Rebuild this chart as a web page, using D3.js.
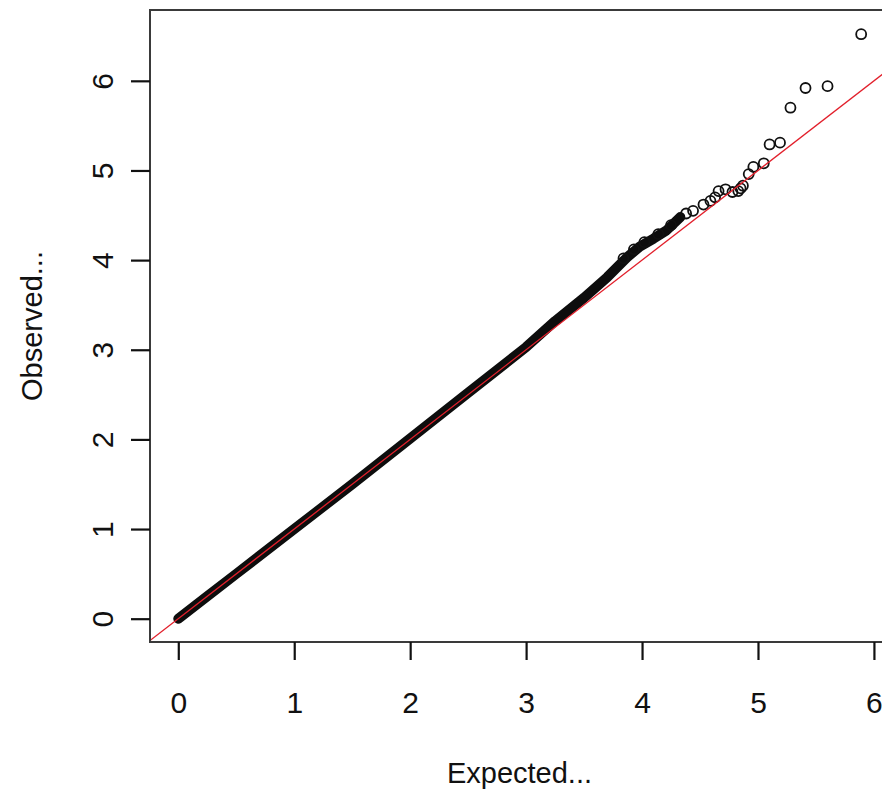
<!DOCTYPE html>
<html>
<head>
<meta charset="utf-8">
<script src="https://cdn.jsdelivr.net/npm/d3@7/dist/d3.min.js"></script>
<style>
  html, body { margin: 0; padding: 0; background: #ffffff; }
  svg { display: block; }
</style>
</head>
<body>
<div id="chart"></div>
<script>
const width = 882;
const height = 794;

// axis ticks
const xTicks = [0, 1, 2, 3, 4, 5, 6];
const yTicks = [0, 1, 2, 3, 4, 5, 6];

// dense part of the qq cloud (points overlap into a solid band)
const bandExp = [0, 0.25, 0.5, 1.0, 1.5, 2.0, 2.5, 3.0, 3.25, 3.5, 3.7, 3.87, 3.98, 4.10, 4.21, 4.33];
const bandObs = [0, 0.25, 0.5, 1.0, 1.5, 2.01, 2.52, 3.03, 3.32, 3.58, 3.81, 4.03, 4.15, 4.24, 4.33, 4.48];

// edge of the band and sparse tail, single circles
const tailExp = [3.84, 3.93, 4.02, 4.14, 4.25, 4.38, 4.44, 4.53, 4.59, 4.63, 4.66, 4.72, 4.78, 4.83, 4.85, 4.87, 4.92, 4.96, 5.05, 5.10, 5.19, 5.28, 5.41, 5.60, 5.89];
const tailObs = [4.02, 4.12, 4.20, 4.29, 4.39, 4.52, 4.55, 4.62, 4.66, 4.70, 4.77, 4.79, 4.76, 4.77, 4.80, 4.83, 4.96, 5.04, 5.08, 5.29, 5.31, 5.70, 5.92, 5.94, 6.52];

const xLabel = 'Expected...';
const yLabel = 'Observed...';

const plot = { left: 150, top: 10, right: 889, bottom: 642 };

let x = d3.scaleLinear().domain([-0.244, 6.13]).range([plot.left, plot.right]);
let y = d3.scaleLinear().domain([-0.26, 6.79]).range([plot.bottom, plot.top]);

let svg = d3.select('#chart').append('svg')
            .attr('width', width)
            .attr('height', height)
            .style('font-family', '"Liberation Sans", Arial, sans-serif');

svg.append('defs').append('clipPath')
   .attr('id', 'plotClip')
   .append('rect')
     .attr('x', plot.left)
     .attr('y', plot.top)
     .attr('width', plot.right - plot.left)
     .attr('height', plot.bottom - plot.top);

let g = svg.append('g').attr('clip-path', 'url(#plotClip)');

// band
const band = bandExp.map((d, i) => [d, bandObs[i]]);
g.append('path')
 .datum(band)
 .attr('d', d3.line().x(d => x(d[0])).y(d => y(d[1])))
 .attr('fill', 'none')
 .attr('stroke', '#0d0d0d')
 .attr('stroke-width', 10)
 .attr('stroke-linecap', 'round')
 .attr('stroke-linejoin', 'round');

// tail points
g.selectAll('circle.pt')
 .data(tailExp.map((d, i) => [d, tailObs[i]]))
 .join('circle')
   .attr('class', 'pt')
   .attr('cx', d => x(d[0]))
   .attr('cy', d => y(d[1]))
   .attr('r', 5)
   .attr('fill', 'none')
   .attr('stroke', '#111')
   .attr('stroke-width', 1.8);

// y = x reference line
const dom = x.domain();
g.append('line')
 .attr('x1', x(dom[0]))
 .attr('y1', y(dom[0]))
 .attr('x2', x(dom[1]))
 .attr('y2', y(dom[1]))
 .attr('stroke', '#e2202c')
 .attr('stroke-width', 1.3);

// box
svg.append('rect')
   .attr('x', plot.left)
   .attr('y', plot.top)
   .attr('width', plot.right - plot.left)
   .attr('height', plot.bottom - plot.top)
   .attr('fill', 'none')
   .attr('stroke', '#3a3a3a')
   .attr('stroke-width', 2);

// x axis
let xAxis = svg.append('g').attr('transform', `translate(0,${plot.bottom})`)
               .call(d3.axisBottom(x).tickValues(xTicks).tickSize(18).tickPadding(32).tickFormat(d3.format('d')));
xAxis.select('.domain').remove();
xAxis.selectAll('line').attr('stroke', '#111').attr('stroke-width', 2.2);
xAxis.selectAll('text')
     .attr('font-size', 30)
     .attr('fill', '#111')
     .attr('font-family', '"Liberation Sans", Arial, sans-serif');

// y axis, labels rotated like R's default las=0
let yAxis = svg.append('g').attr('transform', `translate(${plot.left},0)`)
               .call(d3.axisLeft(y).tickValues(yTicks).tickSize(19).tickFormat(d3.format('d')));
yAxis.select('.domain').remove();
yAxis.selectAll('line').attr('stroke', '#111').attr('stroke-width', 2.2);
yAxis.selectAll('text')
     .attr('x', null)
     .attr('dy', null)
     .attr('transform', 'translate(-37,0) rotate(-90)')
     .attr('text-anchor', 'middle')
     .attr('font-size', 30)
     .attr('fill', '#111')
     .attr('font-family', '"Liberation Sans", Arial, sans-serif');

// axis titles
svg.append('text')
   .attr('x', (plot.left + plot.right) / 2)
   .attr('y', 783)
   .attr('text-anchor', 'middle')
   .attr('font-size', 29)
   .attr('fill', '#111')
   .text(xLabel);

svg.append('text')
   .attr('transform', `translate(42,${(plot.top + plot.bottom) / 2}) rotate(-90)`)
   .attr('text-anchor', 'middle')
   .attr('font-size', 29)
   .attr('fill', '#111')
   .text(yLabel);
</script>
</body>
</html>
